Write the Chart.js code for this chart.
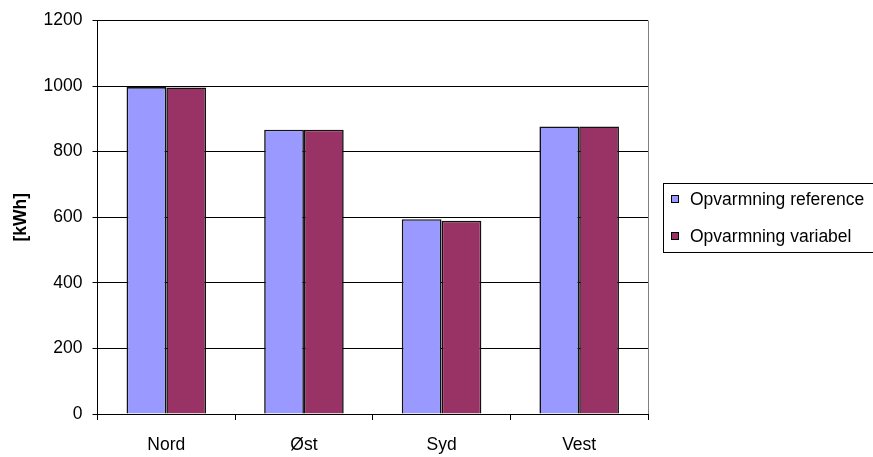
<!DOCTYPE html>
<html>
<head>
<meta charset="utf-8">
<script src="https://cdn.jsdelivr.net/npm/chart.js@4/dist/chart.umd.min.js"></script>
<style>
  html, body { margin: 0; padding: 0; background: #fff; }
  canvas { display: block; }
</style>
</head>
<body>
<canvas id="c" width="873" height="457"></canvas>
<script>
// Heating demand per orientation, kWh
const categories = ['Nord', 'Øst', 'Syd', 'Vest'];
const referenceValues = [997, 867, 594, 877];
const variableValues = [996, 867, 589, 877];
const seriesNames = ['Opvarmning reference', 'Opvarmning variabel'];
const seriesColors = ['#9999FF', '#993366'];
const yTicks = [0, 200, 400, 600, 800, 1000, 1200];
const yTitle = '[kWh]';

const FONT = "'Liberation Sans', Arial, sans-serif";

// Framed legend on the right, plus the grey right-hand border of the plot area
const framedLegend = {
  id: 'framedLegend',
  afterDraw(chart) {
    const { ctx, chartArea } = chart;
    ctx.save();
    // plot area right border
    ctx.strokeStyle = '#808080';
    ctx.lineWidth = 1;
    const rx = Math.round(chartArea.right) + 0.5;
    ctx.beginPath();
    ctx.moveTo(rx, chartArea.top);
    ctx.lineTo(rx, chartArea.bottom);
    ctx.stroke();

    // legend frame
    const lx = chartArea.right + 15;
    const ly = 183;
    ctx.strokeStyle = '#000';
    ctx.strokeRect(Math.round(lx) + 0.5, ly + 0.5, 230, 69);

    ctx.font = '17.5px ' + FONT;
    ctx.textBaseline = 'middle';
    ctx.textAlign = 'left';
    chart.data.datasets.forEach((ds, i) => {
      const cy = 199 + i * 37;
      const bx = Math.round(lx) + 8;
      ctx.fillStyle = ds.backgroundColor;
      ctx.fillRect(bx, cy - 4, 8, 8);
      ctx.strokeStyle = '#000';
      ctx.strokeRect(bx + 0.5, cy - 3.5, 7, 7);
      ctx.fillStyle = '#000';
      ctx.fillText(ds.label, bx + 19, cy + 1);
    });
    ctx.restore();
  }
};

new Chart(document.getElementById('c'), {
  type: 'bar',
  data: {
    labels: categories,
    datasets: [
      {
        label: seriesNames[0],
        data: referenceValues,
        backgroundColor: seriesColors[0],
        borderColor: '#111',
        borderWidth: 1.6
      },
      {
        label: seriesNames[1],
        data: variableValues,
        backgroundColor: seriesColors[1],
        borderColor: '#111',
        borderWidth: 1.6
      }
    ]
  },
  options: {
    responsive: false,
    animation: false,
    devicePixelRatio: 1,
    layout: { padding: { top: 20, right: 225, bottom: 0, left: 0 } },
    datasets: {
      bar: { categoryPercentage: 0.578, barPercentage: 1 }
    },
    plugins: {
      legend: { display: false },
      tooltip: { enabled: false }
    },
    scales: {
      x: {
        grid: {
          display: true,
          drawOnChartArea: false,
          drawTicks: true,
          tickLength: 6,
          offset: true,
          color: '#000'
        },
        border: { display: true, color: '#000' },
        ticks: {
          color: '#000',
          font: { family: FONT, size: 17.5 },
          padding: 15,
          maxRotation: 0
        },
        afterFit(scale) { scale.height = 43; }
      },
      y: {
        min: 0,
        max: 1200,
        afterBuildTicks(scale) {
          scale.ticks = yTicks.map(v => ({ value: v }));
        },
        grid: {
          color: '#000',
          drawTicks: true,
          tickLength: 5
        },
        border: { display: true, color: '#000' },
        ticks: {
          color: '#000',
          font: { family: FONT, size: 17.5 },
          padding: 10,
          callback: v => String(v)
        },
        title: {
          display: true,
          text: yTitle,
          color: '#000',
          font: { family: FONT, size: 17.5, weight: 'bold' },
          padding: { top: 10.5, bottom: 0 }
        },
        afterFit(scale) { scale.width = 97.5; }
      }
    }
  },
  plugins: [framedLegend]
});
</script>
</body>
</html>
